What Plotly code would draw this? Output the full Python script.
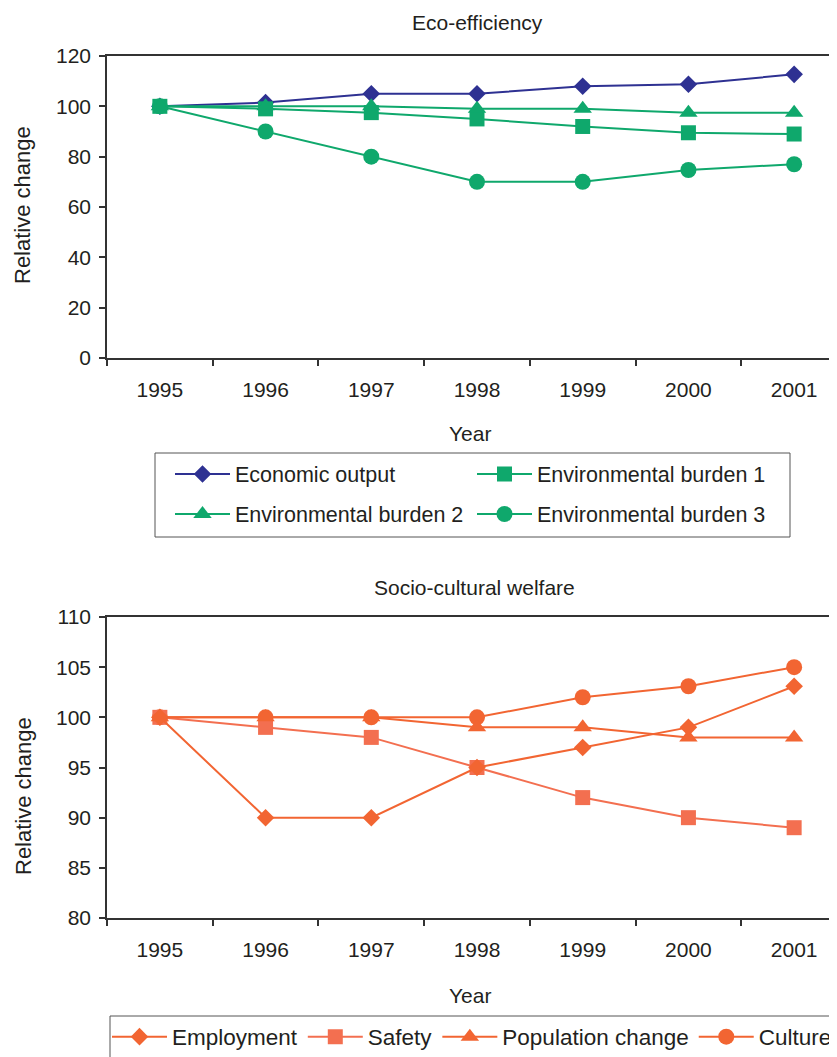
import plotly.graph_objects as go

years = ["1995", "1996", "1997", "1998", "1999", "2000", "2001"]

# Eco-efficiency
economic_output = [100, 101.5, 105, 105, 108, 108.8, 112.7]
env_burden_1 = [100, 99, 97.5, 95, 92, 89.5, 89]
env_burden_2 = [100, 100, 100, 99, 99, 97.5, 97.5]
env_burden_3 = [100, 90, 80, 70, 70, 74.7, 77]

# Socio-cultural welfare
employment = [100, 90, 90, 95, 97, 99, 103.1]
safety = [100, 99, 98, 95, 92, 90, 89]
population_change = [100, 100, 100, 99, 99, 98, 98]
culture = [100, 100, 100, 100, 102, 103.1, 105]

W, H = 880, 1110
OFF = 8  # page body margin
FONT = "Liberation Sans, Arial, Helvetica, sans-serif"
TXT = "#231f20"
NAVY = "#2e3192"
GREEN = "#0fa86c"
ORANGE = "#f26532"
SAFETY = "#f36f50"


def sx(x):
    return (x - OFF) / W


def sy(y):
    return 1 - (y - OFF) / H


fig = go.Figure()


def add(x, y, name, color, symbol, size, xa, ya, legend, rank):
    fig.add_trace(go.Scatter(
        x=x, y=y, name=name, mode="lines+markers",
        line=dict(color=color, width=2),
        marker=dict(color=color, symbol=symbol, size=size, line=dict(width=0)),
        xaxis=xa, yaxis=ya, legend=legend, legendrank=rank,
    ))


add(years, economic_output, "Economic output", NAVY, "diamond", 13.5, "x", "y", "legend", 1)
add(years, env_burden_3, "Environmental burden 3", GREEN, "circle", 16, "x", "y", "legend3", 4)
add(years, env_burden_1, "Environmental burden 1", GREEN, "square", 15, "x", "y", "legend", 2)
add(years, env_burden_2, "Environmental burden 2", GREEN, "triangle-up", 16, "x", "y", "legend3", 3)

add(years, culture, "Culture", ORANGE, "circle", 16, "x2", "y2", "legend2", 4)
add(years, safety, "Safety", SAFETY, "square", 15, "x2", "y2", "legend2", 2)
add(years, population_change, "Population change", ORANGE, "triangle-up", 16, "x2", "y2", "legend2", 3)
add(years, employment, "Employment", ORANGE, "diamond", 13.5, "x2", "y2", "legend2", 1)

xdom = [sx(107), sx(847)]
axis_common = dict(
    showline=True, linecolor="#333333", linewidth=1.5, mirror=True,
    ticks="outside", ticklen=6, tickwidth=1.5, tickcolor="#333333",
    showgrid=False, zeroline=False, automargin=False,
    tickfont=dict(family=FONT, size=21, color=TXT),
)

legend_common = dict(
    xanchor="left", yanchor="middle",
    orientation="h", borderwidth=0, bgcolor="rgba(0,0,0,0)",
    traceorder="normal", itemwidth=55,
)

fig.update_layout(
    width=W, height=H,
    margin=dict(l=0, r=0, t=0, b=0, autoexpand=False),
    paper_bgcolor="white", plot_bgcolor="white",
    font=dict(family=FONT, color=TXT),
    xaxis=dict(domain=xdom, anchor="y", type="category", categoryorder="array",
               categoryarray=years, range=[-0.5, 6.5], tickson="boundaries",
               ticklabelstandoff=12, **axis_common),
    yaxis=dict(domain=[sy(358), sy(56)], anchor="x", range=[0, 120], dtick=20,
               ticklabelstandoff=4, **axis_common),
    xaxis2=dict(domain=xdom, anchor="y2", type="category", categoryorder="array",
                categoryarray=years, range=[-0.5, 6.5], tickson="boundaries",
                ticklabelstandoff=12, **axis_common),
    yaxis2=dict(domain=[sy(918), sy(617)], anchor="x2", range=[80, 110], dtick=5,
                ticklabelstandoff=4, **axis_common),
    legend=dict(x=sx(170), y=sy(474), entrywidth=232, entrywidthmode="pixels",
                font=dict(family=FONT, size=21.5, color=TXT), **legend_common),
    legend3=dict(x=sx(170), y=sy(514), entrywidth=232, entrywidthmode="pixels",
                 font=dict(family=FONT, size=21.5, color=TXT), **legend_common),
    legend2=dict(x=sx(107), y=sy(1037),
                 font=dict(family=FONT, size=22.5, color=TXT), **legend_common),
    showlegend=True,
)

# legend frames
fig.add_shape(type="rect", xref="paper", yref="paper",
              x0=sx(155), x1=sx(790), y0=sy(537), y1=sy(453),
              line=dict(color="#555555", width=1), fillcolor="rgba(0,0,0,0)", layer="below")
fig.add_shape(type="rect", xref="paper", yref="paper",
              x0=sx(110), x1=sx(900), y0=sy(1090), y1=sy(1016),
              line=dict(color="#555555", width=1), fillcolor="rgba(0,0,0,0)", layer="below")

annos = [
    ("Eco-efficiency", 477, 23, 0, 21),
    ("Year", 470, 433, 0, 21),
    ("Relative change", 23, 205, -90, 22),
    ("Socio-cultural welfare", 475, 587, 0, 21),
    ("Year", 470, 995, 0, 21),
    ("Relative change", 23, 796, -90, 22),
]
for text, x, y, ang, sz in annos:
    fig.add_annotation(text=text, x=sx(x), y=sy(y), xref="paper", yref="paper",
                       xanchor="center", yanchor="middle", showarrow=False,
                       textangle=ang, font=dict(family=FONT, size=sz, color=TXT))

fig.write_html("out.html")
